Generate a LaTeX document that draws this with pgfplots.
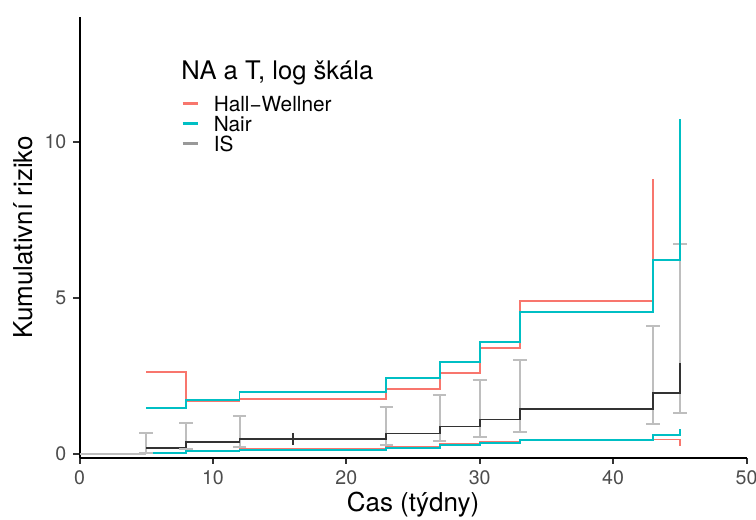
\documentclass[border=0pt]{standalone}
\usepackage{pgfplots}
\pgfplotsset{compat=1.18}
\usepackage{fontspec}
\setmainfont{TeX Gyre Heros}
\definecolor{hwred}{HTML}{F8766D}
\definecolor{naircyan}{HTML}{00BFC4}
\definecolor{ticklab}{HTML}{4D4D4D}
\definecolor{errgray}{HTML}{BEBEBE}
\definecolor{isdark}{HTML}{333333}
\definecolor{iskey}{HTML}{999999}
\begin{document}
\begin{tikzpicture}
\useasboundingbox (0,0) rectangle (378bp,260bp);
\begin{axis}[
  at={(39.75bp,31.25bp)}, anchor=south west,
  scale only axis, width=333.5bp, height=220.1bp,
  xmin=0, xmax=50, ymin=-0.11, ymax=14,
  axis x line*=bottom, axis y line*=left,
  axis line style={line width=1bp, black, -},
  xtick={0,10,20,30,40,50}, ytick={0,5,10},
  tick align=outside, major tick length=3bp,
  tick style={line width=1bp, black!80},
  /pgf/number format/assume math mode=true,
  ticklabel style={font=\fontsize{9.8bp}{11bp}\selectfont, text=ticklab},
  xticklabel style={inner sep=0pt, anchor=north, yshift=-3.5bp},
  yticklabel style={inner sep=0pt, anchor=east, xshift=-3.4bp},
  xlabel={Cas (týdny)},
  ylabel={Kumulativní riziko},
  label style={font=\fontsize{13bp}{15bp}\selectfont},
  xlabel style={at={(axis description cs:0.5,0)}, anchor=base, yshift=-26.75bp, inner sep=0pt},
  ylabel style={at={(axis description cs:-0.0708,0.5)}, anchor=base, inner sep=0pt},
  legend style={at={(rel axis cs:0.153,0.827)}, anchor=north west, draw=none, fill=none,
    inner sep=0pt, outer sep=0pt, row sep=0pt, column sep=7.5bp,
    nodes={inner sep=0pt, text height=9bp, text depth=1bp},
    font=\fontsize{10.4bp}{12bp}\selectfont},
  legend cell align=left,
  legend image code/.code={\draw[#1, line width=1.1bp] (0bp,0bp) -- (7.5bp,0bp);},
]
% Errorbars (IS confidence intervals)
\addplot[forget plot, draw=none, mark=none,
  error bars/.cd, y dir=plus, y explicit,
  error bar style={line width=1bp, errgray},
  error mark options={errgray, line width=1bp, mark size=3.4bp, rotate=90}]
  coordinates {
  (5,0.05) +- (0,0.63)
  (8,0.15) +- (0,0.84)
  (12,0.22) +- (0,0.99)
  (23,0.30) +- (0,1.22)
  (27,0.41) +- (0,1.48)
  (30,0.54) +- (0,1.83)
  (33,0.72) +- (0,2.30)
  (43,0.95) +- (0,3.15)
  (45,1.31) +- (0,5.43)
  };
\addplot[forget plot, only marks, mark=-, mark size=3.4bp, mark options={errgray, line width=1bp}]
  coordinates {(5,0.05) (8,0.15) (12,0.22) (23,0.30) (27,0.41) (30,0.54) (33,0.72) (43,0.95) (45,1.31)};
% Hall-Wellner upper
\addplot[hwred, line width=0.85bp] coordinates {
  (5,2.62) (8,2.62) (8,1.69) (12,1.69) (12,1.77) (23,1.77) (23,2.09) (27,2.09)
  (27,2.60) (30,2.60) (30,3.41) (33,3.41) (33,4.91) (43,4.91) (43,8.82)};
\addlegendentry{Hall−Wellner}
% Nair upper
\addplot[naircyan, line width=0.85bp] coordinates {
  (5,1.47) (8,1.47) (8,1.73) (12,1.73) (12,1.99) (23,1.99) (23,2.43) (27,2.43)
  (27,2.94) (30,2.94) (30,3.60) (33,3.60) (33,4.56) (43,4.56) (43,6.21) (45,6.21) (45,10.74)};
\addlegendentry{Nair}
\addlegendimage{iskey}
\addlegendentry{IS}
% Hall-Wellner lower
\addplot[forget plot, hwred, line width=0.85bp] coordinates {
  (5,0.04) (8,0.04) (8,0.11) (12,0.11) (12,0.16) (23,0.16) (23,0.24) (27,0.24)
  (27,0.32) (30,0.32) (30,0.39) (33,0.39) (33,0.47) (45,0.47) (45,0.25)};
% Nair lower
\addplot[forget plot, naircyan, line width=0.85bp] coordinates {
  (5,0.03) (8,0.03) (8,0.09) (12,0.09) (12,0.13) (23,0.13) (23,0.20) (27,0.20)
  (27,0.28) (30,0.28) (30,0.35) (33,0.35) (33,0.44) (43,0.44) (43,0.62) (45,0.62) (45,0.81)};
% IS estimate
\addplot[forget plot, errgray, line width=1bp] coordinates {(0,0) (5,0)};
\addplot[forget plot, isdark, line width=0.85bp] coordinates {
  (5,0.19) (8,0.19) (8,0.38) (12,0.38) (12,0.49) (23,0.49) (23,0.66) (27,0.66)
  (27,0.88) (30,0.88) (30,1.11) (33,1.11) (33,1.45) (43,1.45) (43,1.96) (45,1.96) (45,2.93)};
% censoring mark
\addplot[forget plot, only marks, mark=|, mark size=2.9bp, mark options={isdark, line width=1bp}]
  coordinates {(16,0.49)};
\node[anchor=base west, inner sep=0pt, font=\fontsize{12.8bp}{14bp}\selectfont] at (rel axis cs:0.152,0.859) {NA a T, log škála};
\end{axis}
\end{tikzpicture}
\end{document}
